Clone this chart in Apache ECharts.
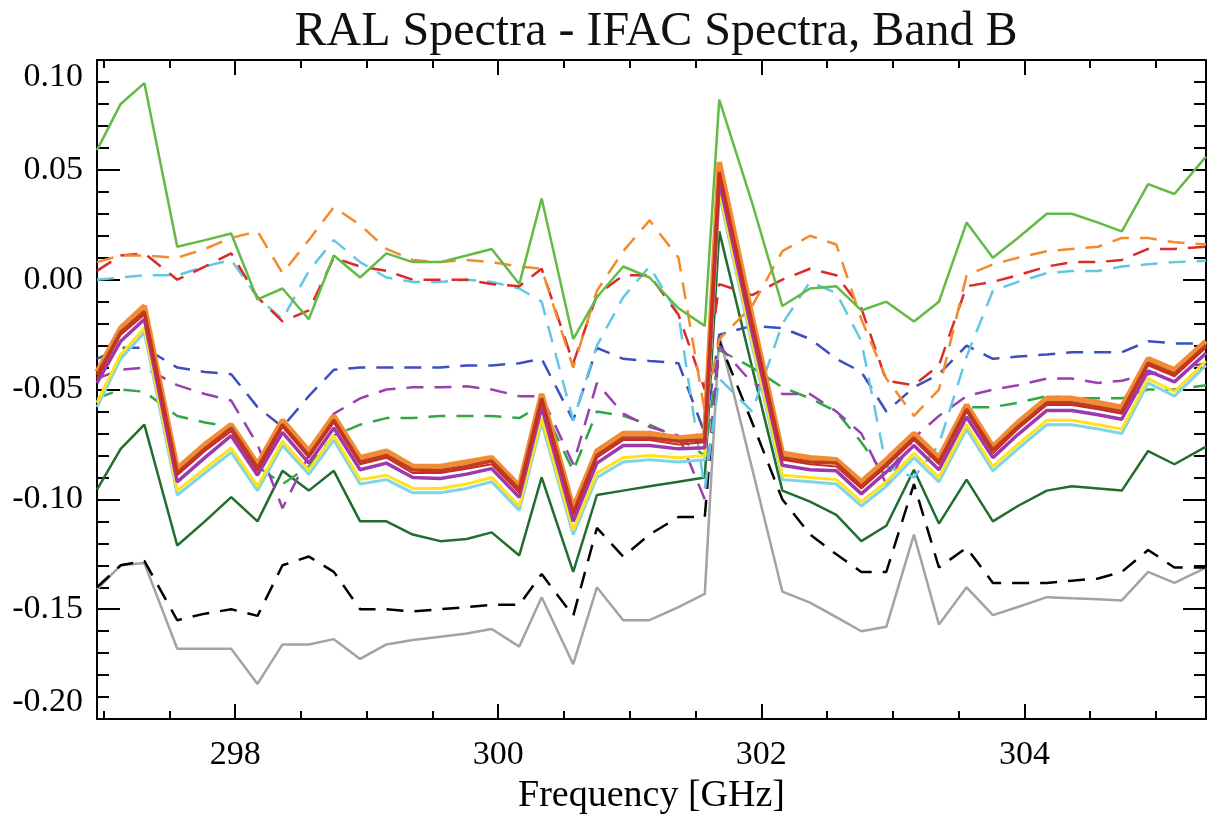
<!DOCTYPE html>
<html>
<head>
<meta charset="utf-8">
<script src="https://cdn.jsdelivr.net/npm/echarts@6/dist/echarts.min.js"></script>
<style>html,body{margin:0;padding:0;background:#fff}#c{width:1208px;height:820px}</style>
</head>
<body>
<div id="c"></div>
<script>
const freq = [296.95, 297.13, 297.31, 297.56, 297.77, 297.97, 298.17, 298.36, 298.56, 298.75, 298.95, 299.15, 299.35, 299.56, 299.76, 299.95, 300.16, 300.33, 300.57, 300.75, 300.95, 301.15, 301.37, 301.57, 301.68, 301.93, 302.16, 302.37, 302.57, 302.76, 302.95, 303.16, 303.35, 303.56, 303.76, 303.95, 304.17, 304.36, 304.56, 304.74, 304.94, 305.14, 305.38];

const xMajorTicks = [298, 300, 302, 304];
const xMinorTicks = [297, 297.5, 298.5, 299, 299.5, 300.5, 301, 301.5, 302.5, 303, 303.5, 304.5, 305];

// solid lines
const lightGreen = [0.059, 0.080, 0.0895, 0.015, 0.018, 0.021, -0.009, -0.004, -0.018, 0.011, 0.001, 0.012, 0.008, 0.008, 0.011, 0.014, -0.002, 0.037, -0.027, -0.008, 0.006, 0.001, -0.013, -0.021, 0.082, 0.035, -0.012, -0.004, -0.003, -0.014, -0.010, -0.019, -0.010, 0.026, 0.010, 0.019, 0.030, 0.030, 0.026, 0.022, 0.0435, 0.039, 0.056];
const darkGreen = [-0.0956, -0.077, -0.066, -0.121, -0.110, -0.099, -0.110, -0.087, -0.096, -0.087, -0.110, -0.110, -0.116, -0.119, -0.118, -0.115, -0.1255, -0.090, -0.133, -0.098, -0.096, -0.094, -0.092, -0.090, 0.022, -0.040, -0.096, -0.101, -0.107, -0.119, -0.112, -0.0865, -0.111, -0.091, -0.110, -0.103, -0.096, -0.094, -0.095, -0.096, -0.078, -0.084, -0.076];
const gray = [-0.141, -0.130, -0.129, -0.168, -0.168, -0.168, -0.184, -0.166, -0.166, -0.1636, -0.1726, -0.166, -0.164, -0.1625, -0.161, -0.159, -0.167, -0.1445, -0.175, -0.140, -0.155, -0.155, -0.149, -0.143, -0.025, -0.086, -0.142, -0.147, -0.1536, -0.160, -0.158, -0.116, -0.157, -0.140, -0.1527, -0.149, -0.1445, -0.145, -0.1455, -0.146, -0.133, -0.138, -0.131];
const orangeSolid = [-0.042, -0.022, -0.012, -0.086, -0.075, -0.066, -0.084, -0.064, -0.078, -0.062, -0.081, -0.078, -0.085, -0.085, -0.083, -0.081, -0.094, -0.052, -0.104, -0.078, -0.070, -0.070, -0.072, -0.071, 0.0535, -0.017, -0.079, -0.081, -0.082, -0.092, -0.082, -0.070, -0.081, -0.057, -0.076, -0.065, -0.054, -0.054, -0.056, -0.058, -0.036, -0.041, -0.028];
const brownSolid = [-0.0435, -0.024, -0.0145, -0.088, -0.077, -0.0675, -0.0856, -0.066, -0.080, -0.064, -0.083, -0.080, -0.0866, -0.087, -0.085, -0.0825, -0.0955, -0.054, -0.106, -0.080, -0.072, -0.072, -0.0735, -0.073, 0.049, -0.020, -0.081, -0.083, -0.0834, -0.094, -0.084, -0.072, -0.083, -0.059, -0.0775, -0.067, -0.056, -0.056, -0.058, -0.060, -0.038, -0.043, -0.030];
const redSolid = [-0.045, -0.025, -0.016, -0.089, -0.078, -0.069, -0.087, -0.067, -0.081, -0.065, -0.084, -0.081, -0.088, -0.088, -0.086, -0.084, -0.097, -0.055, -0.107, -0.081, -0.073, -0.073, -0.075, -0.074, 0.048, -0.021, -0.082, -0.084, -0.085, -0.095, -0.085, -0.073, -0.084, -0.060, -0.079, -0.068, -0.057, -0.057, -0.059, -0.061, -0.039, -0.044, -0.031];
const purpleSolid = [-0.047, -0.028, -0.018, -0.092, -0.081, -0.071, -0.089, -0.0695, -0.0835, -0.0675, -0.0865, -0.0835, -0.090, -0.0905, -0.0885, -0.086, -0.099, -0.058, -0.110, -0.0835, -0.0755, -0.0755, -0.077, -0.0765, 0.045, -0.024, -0.0845, -0.0865, -0.087, -0.0975, -0.0875, -0.0755, -0.0865, -0.0625, -0.081, -0.0705, -0.0595, -0.0595, -0.0615, -0.0635, -0.0415, -0.0465, -0.0335];
const yellowSolid = [-0.056, -0.034, -0.022, -0.096, -0.086, -0.0766, -0.094, -0.0735, -0.0866, -0.071, -0.091, -0.089, -0.095, -0.095, -0.093, -0.090, -0.103, -0.063, -0.114, -0.088, -0.081, -0.080, -0.081, -0.080, 0.041, -0.028, -0.089, -0.090, -0.091, -0.101, -0.092, -0.079, -0.090, -0.066, -0.085, -0.075, -0.064, -0.064, -0.066, -0.068, -0.045, -0.051, -0.037];
const cyanSolid = [-0.058, -0.036, -0.024, -0.098, -0.088, -0.0786, -0.096, -0.0755, -0.0886, -0.073, -0.093, -0.091, -0.097, -0.097, -0.095, -0.092, -0.105, -0.065, -0.116, -0.090, -0.083, -0.082, -0.083, -0.082, 0.039, -0.030, -0.091, -0.092, -0.093, -0.103, -0.094, -0.081, -0.092, -0.068, -0.087, -0.077, -0.066, -0.066, -0.068, -0.070, -0.047, -0.053, -0.039];

// dashed lines
const orangeDash = [0.008, 0.011, 0.011, 0.010, 0.014, 0.019, 0.022, 0.003, 0.018, 0.033, 0.025, 0.014, 0.009, 0.008, 0.009, 0.008, 0.006, 0.005, -0.040, -0.005, 0.013, 0.027, 0.010, -0.060, -0.027, -0.012, 0.013, 0.020, 0.016, -0.018, -0.045, -0.062, -0.050, 0.002, 0.007, 0.010, 0.013, 0.014, 0.015, 0.019, 0.019, 0.017, 0.016];
const redDash = [0.004, 0.011, 0.012, 0.000, 0.006, 0.012, -0.008, -0.019, -0.014, 0.010, 0.006, 0.004, 0.000, 0.000, 0.000, -0.002, -0.003, 0.005, -0.038, -0.007, 0.002, 0.002, -0.016, -0.050, -0.002, -0.007, 0.000, 0.005, 0.002, -0.013, -0.046, -0.048, -0.039, -0.003, -0.001, 0.002, 0.006, 0.008, 0.008, 0.009, 0.014, 0.014, 0.015];
const cyanDash = [0.000, 0.001, 0.002, 0.002, 0.006, 0.009, -0.008, -0.018, 0.004, 0.018, 0.008, 0.001, -0.001, -0.001, 0.000, -0.001, -0.004, -0.010, -0.064, -0.030, -0.008, 0.006, -0.016, -0.095, -0.045, -0.060, -0.020, -0.001, -0.006, -0.028, -0.085, -0.090, -0.075, -0.035, -0.005, -0.001, 0.003, 0.004, 0.004, 0.006, 0.007, 0.008, 0.0086];
const blueDash = [-0.036, -0.031, -0.031, -0.040, -0.042, -0.043, -0.058, -0.067, -0.053, -0.041, -0.040, -0.040, -0.040, -0.040, -0.039, -0.039, -0.038, -0.036, -0.064, -0.031, -0.036, -0.037, -0.038, -0.070, -0.025, -0.021, -0.022, -0.027, -0.036, -0.042, -0.060, -0.049, -0.043, -0.030, -0.036, -0.035, -0.034, -0.033, -0.033, -0.033, -0.028, -0.029, -0.029];
const purpleDash = [-0.045, -0.041, -0.040, -0.048, -0.052, -0.055, -0.075, -0.104, -0.080, -0.061, -0.054, -0.050, -0.049, -0.049, -0.0485, -0.050, -0.053, -0.053, -0.084, -0.047, -0.061, -0.067, -0.071, -0.100, -0.030, -0.047, -0.052, -0.052, -0.060, -0.070, -0.093, -0.072, -0.062, -0.053, -0.050, -0.048, -0.045, -0.045, -0.047, -0.046, -0.043, -0.041, -0.038];
const greenDash = [-0.054, -0.050, -0.051, -0.062, -0.065, -0.067, -0.085, -0.093, -0.085, -0.071, -0.066, -0.063, -0.063, -0.062, -0.062, -0.062, -0.063, -0.057, -0.087, -0.060, -0.062, -0.066, -0.072, -0.080, -0.032, -0.040, -0.049, -0.054, -0.060, -0.074, -0.090, -0.070, -0.080, -0.058, -0.058, -0.056, -0.053, -0.054, -0.054, -0.054, -0.050, -0.050, -0.048];
const blackDash = [-0.140, -0.130, -0.128, -0.155, -0.152, -0.150, -0.153, -0.130, -0.126, -0.133, -0.150, -0.150, -0.151, -0.150, -0.149, -0.148, -0.148, -0.134, -0.153, -0.113, -0.126, -0.116, -0.108, -0.108, -0.028, -0.065, -0.100, -0.116, -0.125, -0.133, -0.133, -0.093, -0.131, -0.122, -0.138, -0.138, -0.138, -0.137, -0.136, -0.133, -0.123, -0.131, -0.131];

const FONT = 'Liberation Serif';
const XMIN = 296.95, XMAX = 305.38;
const DASH = [17, 11];

function pts(arr){ return freq.map((f,i)=>[f, arr[i]]); }
function line(name, arr, color, width, dashed, z){
  return {
    name, type:'line', data: pts(arr), showSymbol:false, symbol:'none',
    xAxisIndex:0, yAxisIndex:0, z: z||2,
    lineStyle:{color, width, type: dashed ? DASH : 'solid'},
    emphasis:{disabled:true}, animation:false
  };
}

const tickStyle = {color:'#000', width:2};
function xAxisDef(pos, major, showLabel){
  return {
    type:'value', position:pos, min:XMIN, max:XMAX,
    axisLine:{show: major, onZero:false, lineStyle:{color:'#000', width:2}},
    axisTick:{show:true, inside:true, length: major?15:8, lineStyle:tickStyle,
              customValues: major ? xMajorTicks : xMinorTicks},
    axisLabel:{show: showLabel, customValues: major ? xMajorTicks : xMinorTicks,
               fontFamily:FONT, fontSize:34, color:'#000', margin:19},
    splitLine:{show:false},
    name: showLabel ? 'Frequency [GHz]' : '',
    nameLocation:'middle', nameGap:56,
    nameTextStyle:{fontFamily:FONT, fontSize:38, color:'#000'}
  };
}
function yAxisDef(pos, showLabel){
  return {
    type:'value', position:pos, min:-0.20, max:0.10, interval:0.05,
    axisLine:{show:true, onZero:false, lineStyle:{color:'#000', width:2}},
    axisTick:{show:true, inside:true, length:23, lineStyle:tickStyle},
    minorTick:{show:true, splitNumber:5, length:12, lineStyle:tickStyle},
    axisLabel:{show:showLabel, fontFamily:FONT, fontSize:34, color:'#000', margin:14,
               formatter:v=>v.toFixed(2),
               verticalAlignMinLabel:'bottom', verticalAlignMaxLabel:'top'},
    splitLine:{show:false}, minorSplitLine:{show:false}
  };
}

const chart = echarts.init(document.getElementById('c'), null, {renderer:'canvas'});
chart.setOption({
  backgroundColor:'#fff',
  animation:false,
  title:{text:'RAL Spectra - IFAC Spectra, Band B', left:651, top:3, textAlign:'center',
         textStyle:{fontFamily:FONT, fontSize:48, fontWeight:'normal', color:'#111'}},
  grid:{left:97, right:2, top:60, bottom:98, containLabel:false},
  xAxis:[xAxisDef('bottom', true, true), xAxisDef('bottom', false, false),
         xAxisDef('top', true, false), xAxisDef('top', false, false)],
  yAxis:[yAxisDef('left', true), yAxisDef('right', false)],
  series:[
    line('gray', gray, '#a3a3a3', 2.5, false, 2),
    line('blackDash', blackDash, '#000000', 2.5, true, 3),
    line('darkGreen', darkGreen, '#1f6e2e', 2.5, false, 3),
    line('greenDash', greenDash, '#2ea845', 2.5, true, 4),
    line('purpleDash', purpleDash, '#9a3fb0', 2.5, true, 4),
    line('blueDash', blueDash, '#3b4fbf', 2.5, true, 4),
    line('cyanDash', cyanDash, '#62c8e2', 2.5, true, 4),
    line('redDash', redDash, '#da2a2a', 2.5, true, 4),
    line('orangeDash', orangeDash, '#f58a2c', 2.5, true, 4),
    line('lightGreen', lightGreen, '#62bb44', 2.5, false, 5),
    line('cyanSolid', cyanSolid, '#7fd5e8', 3, false, 6),
    line('yellowSolid', yellowSolid, '#ffe21a', 3, false, 6),
    line('orangeSolid', orangeSolid, '#f28b35', 5.5, false, 6),
    line('purpleSolid', purpleSolid, '#9b3aac', 3.5, false, 7),
    line('brownSolid', brownSolid, '#b8401f', 3.5, false, 7),
    line('redSolid', redSolid, '#cf2a26', 2, false, 7)
  ]
});
</script>
</body>
</html>
